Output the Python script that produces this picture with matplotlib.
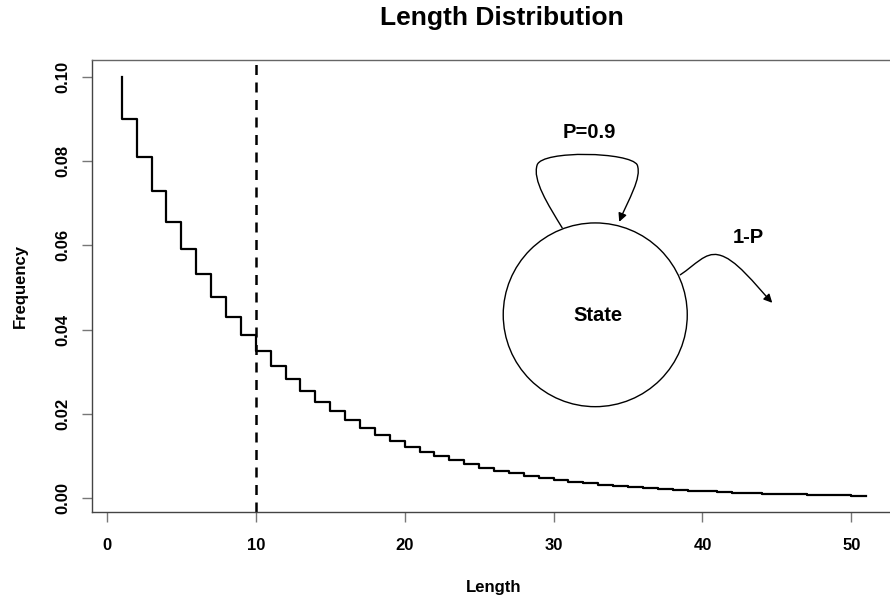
import matplotlib
matplotlib.use("Agg")
import matplotlib.pyplot as plt
from matplotlib.path import Path
from matplotlib.patches import FancyArrowPatch, Ellipse

plt.rcParams['font.family'] = ['Liberation Sans', 'DejaVu Sans']
plt.rcParams['font.weight'] = 'bold'

lengths = list(range(1, 52))
frequency = [0.1, 0.09, 0.081, 0.0729, 0.06561, 0.05905, 0.05314, 0.04783, 0.04305, 0.03874,
             0.03487, 0.03138, 0.02824, 0.02542, 0.02288, 0.02059, 0.01853, 0.01668, 0.01501, 0.01351,
             0.01216, 0.01094, 0.00985, 0.00886, 0.00798, 0.00718, 0.00646, 0.00581, 0.00523, 0.00471,
             0.00424, 0.00382, 0.00343, 0.00309, 0.00278, 0.00250, 0.00225, 0.00203, 0.00182, 0.00164,
             0.00148, 0.00133, 0.00120, 0.00108, 0.00097, 0.00087, 0.00079, 0.00071, 0.00064, 0.00057,
             0.00052]
cutoff = 10
xticks = [0, 10, 20, 30, 40, 50]
yticks = [0.00, 0.02, 0.04, 0.06, 0.08, 0.10]
ytick_labels = ["0.00", "0.02", "0.04", "0.06", "0.08", "0.10"]

fig = plt.figure(figsize=(8.9, 6.02), dpi=100)
ax = fig.add_axes([92/890, 1-512/602, 804/890, 452/602])

ax.plot(lengths, frequency, drawstyle='steps-pre', color='black', lw=1.6)
ax.axvline(cutoff, color='black', lw=1.8, ls=(0, (4, 3)))

ax.set_xlim(-1, 53)
ax.set_ylim(-0.0034, 0.1041)
ax.set_xticks(xticks)
ax.set_yticks(yticks)
ax.set_yticklabels(ytick_labels, rotation=90, va='center')
ax.tick_params(axis='both', direction='out', length=7.5, width=1, color='#777777',
               labelsize=12, pad=8)
ax.tick_params(axis='x', pad=11)
for lab in ax.get_xticklabels() + ax.get_yticklabels():
    lab.set_fontweight('bold')
for s in ax.spines.values():
    s.set_color('#444444')
    s.set_linewidth(1)
ax.spines['top'].set_color('#666666')

ax.set_xlabel('Length', fontsize=12, fontweight='bold', labelpad=20)
ax.set_ylabel('Frequency', fontsize=12, fontweight='bold', labelpad=20)
fig.text(502/890, 1-18/602, 'Length Distribution', ha='center', va='center',
         fontsize=19, fontweight='bold')

# State diagram
ax.add_patch(Ellipse((32.8, 0.0435), 12.36, 0.0437, fill=False, ec='black', lw=1.0))
ax.text(33.0, 0.0433, 'State', ha='center', va='center', fontsize=14.5, fontweight='bold')

loop_verts = [(30.58, 0.06418), (29.64, 0.06965), (28.56, 0.07559), (28.90, 0.07915),
              (29.23, 0.08272), (35.15, 0.08224), (35.62, 0.07915),
              (35.95, 0.07606), (35.01, 0.07083), (34.41, 0.06561)]
loop_codes = [Path.MOVETO] + [Path.CURVE4] * 9
ax.add_patch(FancyArrowPatch(path=Path(loop_verts, loop_codes), arrowstyle='-|>,head_length=5,head_width=2.5',
                             color='black', lw=1.0, shrinkA=0, shrinkB=0))
ax.text(32.39, 0.0868, 'P=0.9', ha='center', va='center', fontsize=14.5, fontweight='bold')

exit_verts = [(38.51, 0.05301), (39.52, 0.05538), (40.19, 0.05847), (41.06, 0.05776),
              (42.20, 0.05705), (43.55, 0.05063), (44.69, 0.04635)]
exit_codes = [Path.MOVETO] + [Path.CURVE4] * 6
ax.add_patch(FancyArrowPatch(path=Path(exit_verts, exit_codes), arrowstyle='-|>,head_length=5,head_width=2.5',
                             color='black', lw=1.0, shrinkA=0, shrinkB=0))
ax.text(43.08, 0.0618, '1-P', ha='center', va='center', fontsize=14.5, fontweight='bold')

fig.savefig('out.png', dpi=100)
